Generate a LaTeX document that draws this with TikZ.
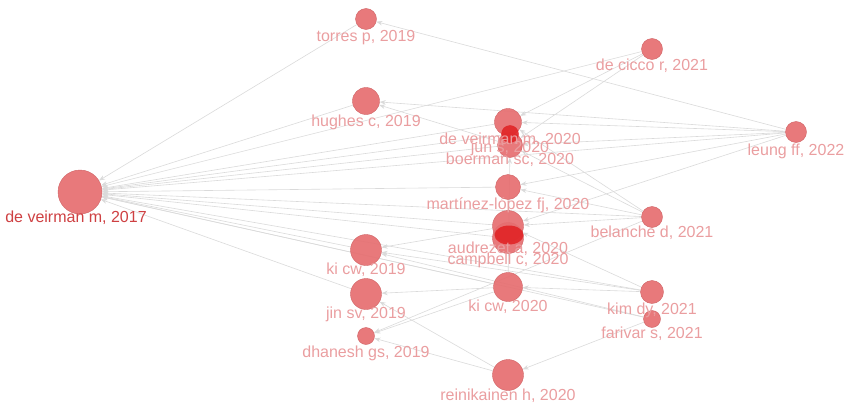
\documentclass[tikz,border=0pt]{standalone}
\usepackage{fontspec}
\setmainfont{Liberation Sans}
\usetikzlibrary{arrows.meta,backgrounds,shapes.geometric}
\definecolor{nodered}{RGB}{230,110,112}
\definecolor{darkred}{RGB}{225,38,40}
\definecolor{lblpink}{RGB}{234,158,160}
\definecolor{lblred}{RGB}{206,64,66}
\definecolor{edgegrey}{RGB}{218,218,218}
\tikzset{
  pub/.style={circle, fill=nodered, draw=nodered!90!black, line width=0.4pt,
    fill opacity=0.92, inner sep=0pt, minimum size=#1},
  pubdark/.style={pub=#1, fill=darkred, draw=darkred},
  lbl/.style={text=lblpink, font=\fontsize{16}{18}\selectfont, inner sep=0pt},
  cite/.style={draw=edgegrey, line width=0.6pt, -{Stealth[length=6pt,width=4.5pt]}}
}
\begin{document}
\begin{tikzpicture}[x=1pt,y=-1pt]
\useasboundingbox (0,0) rectangle (848,404);

% Marking publications by circles
\node[pub=44] (dv17) at (80,192) {};
\node[pub=21] (torres) at (366,19) {};
\node[pub=21] (decicco) at (652,49) {};
\node[pub=27] (hughes) at (366,101) {};
\node[pub=21] (leung) at (796,132) {};
\node[pub=27] (dv20) at (508,122) {};
\node[pub=25] (boerman) at (510,145) {};
\node[pubdark=17] (juns) at (510,134) {};
\node[pub=25] (martinez) at (508,187) {};
\node[pub=31] (campbell) at (508,238) {};
\node[pub=31] (audrezet) at (508,226) {};
\node[ellipse, fill=darkred, fill opacity=0.92, inner sep=0pt,
  minimum width=29, minimum height=19] (audrin) at (509,235) {};
\node[pub=21] (belanche) at (652,217) {};
\node[pub=31] (kicw19) at (366,250) {};
\node[pub=29] (kicw20) at (508,287) {};
\node[pub=31] (jinsv) at (366,294) {};
\node[pub=23] (kimdy) at (652,292) {};
\node[pub=17] (farivar) at (652,319) {};
\node[pub=17] (dhanesh) at (366,336) {};
\node[pub=31] (reinik) at (508,375) {};

% Marking labels
\node[lbl, text=lblred] (dv17-l) at (76,218) {de veirman m, 2017};
\node[lbl] (torres-l) at (366,38) {torres p, 2019};
\node[lbl] (decicco-l) at (652,66) {de cicco r, 2021};
\node[lbl] (hughes-l) at (366,122) {hughes c, 2019};
\node[lbl] (leung-l) at (796,151) {leung ff, 2022};
\node[lbl] (juns-l) at (510,148) {jun s, 2020};
\node[lbl] (dv20-l) at (510,140) {de veirman m, 2020};
\node[lbl] (boerman-l) at (510,160) {boerman sc, 2020};
\node[lbl] (martinez-l) at (508,205) {martínez-lópez fj, 2020};
\node[lbl] (audrezet-l) at (508,249) {audrezet a, 2020};
\node[lbl] (campbell-l) at (508,260) {campbell c, 2020};
\node[lbl] (belanche-l) at (652,233) {belanche d, 2021};
\node[lbl] (kicw19-l) at (366,270) {ki cw, 2019};
\node[lbl] (kicw20-l) at (508,307) {ki cw, 2020};
\node[lbl] (jinsv-l) at (366,314) {jin sv, 2019};
\node[lbl] (kimdy-l) at (652,310) {kim dy, 2021};
\node[lbl] (farivar-l) at (652,334) {farivar s, 2021};
\node[lbl] (dhanesh-l) at (366,353) {dhanesh gs, 2019};
\node[lbl] (reinik-l) at (508,396) {reinikainen h, 2020};

% Drawing citation links
\begin{scope}[on background layer]
\foreach \src in {torres,hughes,dv20,juns,boerman,leung,decicco,martinez,audrezet,campbell,belanche,kicw19,kicw20,kimdy,farivar,jinsv}
  \draw[cite] (\src) -- (dv17);
\foreach \dst in {torres,hughes,dv20,boerman,martinez,audrezet}
  \draw[cite] (leung) -- (\dst);
\foreach \dst in {dv20,boerman,martinez,audrezet,dhanesh}
  \draw[cite] (belanche) -- (\dst);
\draw[cite] (decicco) -- (dv20);
\draw[cite] (decicco) -- (boerman);
\draw[cite] (boerman) -- (hughes);
\draw[cite] (audrezet) -- (kicw19);
\draw[cite] (kicw20) -- (jinsv);
\draw[cite] (kicw20) -- (dhanesh);
\draw[cite] (kicw20) -- (boerman);
\draw[cite] (kimdy) -- (kicw19);
\draw[cite] (kimdy) -- (kicw20);
\draw[cite] (kimdy) -- (audrezet);
\draw[cite] (farivar) -- (kicw19);
\draw[cite] (farivar) -- (reinik);
\draw[cite] (reinik) -- (jinsv);
\draw[cite] (reinik) -- (dhanesh);
\end{scope}
\end{tikzpicture}
\end{document}
